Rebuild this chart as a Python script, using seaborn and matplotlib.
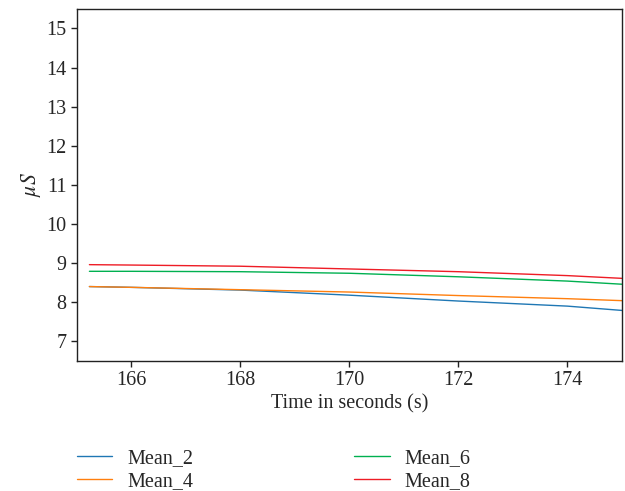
import numpy as np
import pandas as pd
import matplotlib
matplotlib.use('Agg')
import matplotlib.pyplot as plt
import seaborn as sns

# values
time_s = [165.23, 166, 168, 170, 172, 174, 175]
mean_2 = [8.40, 8.38, 8.31, 8.18, 8.03, 7.90, 7.79]
mean_4 = [8.40, 8.38, 8.32, 8.26, 8.17, 8.09, 8.04]
mean_6 = [8.79, 8.79, 8.78, 8.74, 8.65, 8.54, 8.46]
mean_8 = [8.96, 8.95, 8.92, 8.85, 8.78, 8.68, 8.61]
series_names = ['Mean_2', 'Mean_4', 'Mean_6', 'Mean_8']
colors = ['#1f77b4', '#ff7f0e', '#00b050', '#ee1c25']

df = pd.DataFrame({
    'time': time_s * 4,
    'value': mean_2 + mean_4 + mean_6 + mean_8,
    'series': [n for n in series_names for _ in time_s],
})

sns.set_style('ticks')
plt.rcParams['font.family'] = ['Liberation Serif', 'DejaVu Serif']
plt.rcParams['mathtext.fontset'] = 'stix'
fs = 14.5

fig = plt.figure(figsize=(6.25, 4.91), dpi=100)
ax = fig.add_axes([0.123, 0.265, 0.872, 0.717])

sns.lineplot(data=df, x='time', y='value', hue='series', palette=colors,
             linewidth=1.0, ax=ax)

ax.set_xlim(165, 175)
ax.set_ylim(6.5, 15.5)
ax.set_xticks([166, 168, 170, 172, 174])
ax.set_yticks(range(7, 16))
ax.set_xlabel('Time in seconds (s)', fontsize=fs, labelpad=3)
ax.set_ylabel(r'$\mu S$', fontsize=fs + 1, labelpad=2)
ax.tick_params(labelsize=fs, length=4, width=1, color='#222222')
for s in ax.spines.values():
    s.set_visible(True)
    s.set_linewidth(1.0)
    s.set_color('#222222')

ax.legend(loc='upper left', bbox_to_anchor=(0.0, -0.25), ncol=2,
          frameon=False, fontsize=fs, handlelength=1.75, handletextpad=0.75,
          columnspacing=8.0, labelspacing=0.2, borderaxespad=0, borderpad=0)

fig.savefig('out.png', dpi=100)
